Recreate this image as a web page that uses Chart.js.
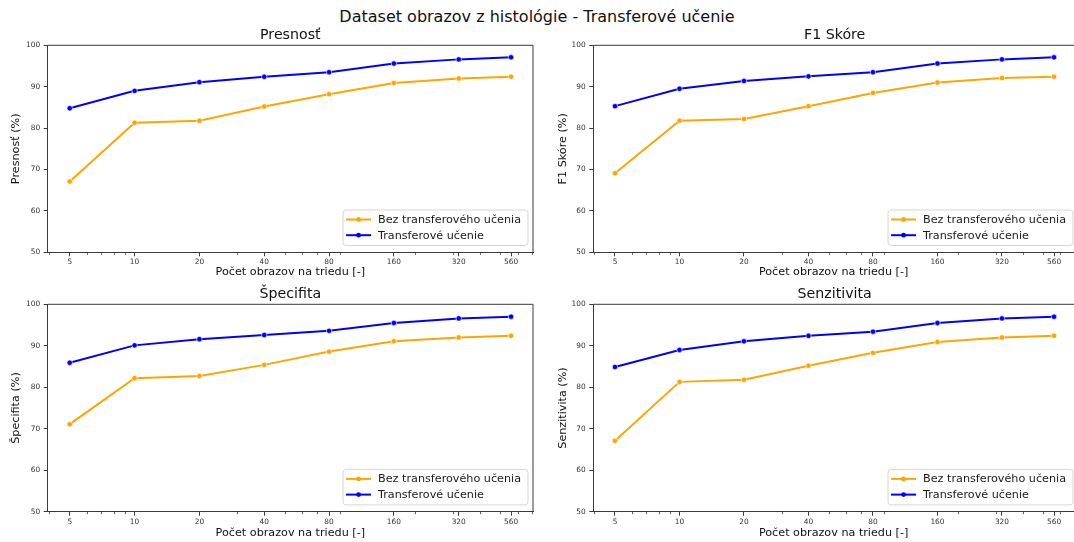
<!DOCTYPE html>
<html lang="sk">
<head>
<meta charset="utf-8">
<title>Dataset obrazov z histológie - Transferové učenie</title>
<script src="https://cdn.jsdelivr.net/npm/chart.js@4.4.1/dist/chart.umd.min.js"></script>
<style>
  html, body { margin: 0; padding: 0; background: #fff; overflow: hidden; }
  body { width: 1074px; height: 542px; position: relative; font-family: "DejaVu Sans", sans-serif; }
  #suptitle { position: absolute; left: 0; top: 7px; width: 1074px; text-align: center; font-size: 16px; line-height: 19px; color: #111; }
  .panel { position: absolute; }
</style>
</head>
<body>
<div id="suptitle">Dataset obrazov z histológie - Transferové učenie</div>
<div class="panel" style="left:0;top:22px;width:540px;height:260px"><canvas id="graf-presnost"></canvas></div>
<div class="panel" style="left:540px;top:22px;width:534px;height:260px"><canvas id="graf-f1"></canvas></div>
<div class="panel" style="left:0;top:282px;width:540px;height:260px"><canvas id="graf-specifita"></canvas></div>
<div class="panel" style="left:540px;top:282px;width:534px;height:260px"><canvas id="graf-senzitivita"></canvas></div>
<script>
// počet obrazov na triedu (os x, logaritmická)
const pocetObrazov = [5, 10, 20, 40, 80, 160, 320, 560];

const presnostBez = [67.1, 81.3, 81.8, 85.2, 88.2, 90.9, 92.0, 92.4];
const presnostTransfer = [84.8, 89.0, 91.1, 92.4, 93.5, 95.6, 96.6, 97.1];

const f1Bez = [69.1, 81.8, 82.2, 85.3, 88.5, 91.0, 92.1, 92.4];
const f1Transfer = [85.3, 89.5, 91.4, 92.5, 93.5, 95.6, 96.6, 97.1];

const specifitaBez = [71.1, 82.2, 82.7, 85.4, 88.6, 91.1, 92.0, 92.4];
const specifitaTransfer = [85.9, 90.1, 91.6, 92.6, 93.6, 95.5, 96.6, 97.0];

const senzitivitaBez = [67.1, 81.3, 81.8, 85.2, 88.3, 90.9, 92.0, 92.4];
const senzitivitaTransfer = [84.9, 89.0, 91.1, 92.4, 93.4, 95.5, 96.6, 97.0];

const xTicks = [5, 10, 20, 40, 80, 160, 320, 560];
const xMinorTicks = [4, 6, 7, 8, 9, 30, 50, 60, 70, 90, 200, 300, 400, 500, 600, 700];
const yTicks = [50, 60, 70, 80, 90, 100];

const legendLabels = ["Bez transferového učenia", "Transferové učenie"];
const FONT = '"DejaVu Sans", sans-serif';
const AXIS = "#3a3a3a";

// nadpis grafu, ramcek hore a vpravo (ako matplotlib)
const frame = {
  id: "frame",
  afterDraw(chart, args, opts) {
    const { ctx, chartArea: a } = chart;
    ctx.save();
    ctx.fillStyle = "#111";
    ctx.font = "14.2px " + FONT;
    ctx.textAlign = "center";
    ctx.textBaseline = "middle";
    ctx.fillText(opts.title, (a.left + opts.axisRight) / 2, a.top - opts.titleGap);

    ctx.strokeStyle = AXIS;
    ctx.lineWidth = 1;
    ctx.beginPath();
    ctx.moveTo(a.left, a.top);
    ctx.lineTo(a.right, a.top);
    if (opts.right) ctx.lineTo(a.right, a.bottom);
    ctx.stroke();
    // vedlajsie znacky na osi x
    const sx = chart.scales.x;
    ctx.lineWidth = 0.8;
    xMinorTicks.forEach(v => {
      if (v < sx.min || v > sx.max) return;
      const px = Math.round(sx.getPixelForValue(v)) + 0.5;
      ctx.beginPath();
      ctx.moveTo(px, a.bottom);
      ctx.lineTo(px, a.bottom + 2.5);
      ctx.stroke();
    });
    ctx.restore();
  }
};

// legenda vpravo dole v grafe
const legendBox = {
  id: "legendBox",
  afterDraw(chart, args, opts) {
    const { ctx, chartArea: a } = chart;
    ctx.save();
    ctx.font = "11.2px " + FONT;
    const tw = Math.max(...chart.data.datasets.map(d => ctx.measureText(d.label).width));
    const w = tw + 42, h = 35.5;
    const x = a.right - opts.rightInset - w;
    const y = a.bottom - 6.8 - h;
    ctx.fillStyle = "rgba(255,255,255,0.85)";
    ctx.strokeStyle = "#d6d6d6";
    ctx.lineWidth = 1;
    ctx.beginPath();
    ctx.roundRect(x, y, w, h, 3);
    ctx.fill();
    ctx.stroke();
    chart.data.datasets.forEach((ds, i) => {
      const cy = y + 9.5 + i * 15.7;
      ctx.strokeStyle = ds.borderColor;
      ctx.lineWidth = 2;
      ctx.beginPath();
      ctx.moveTo(x + 3, cy);
      ctx.lineTo(x + 28, cy);
      ctx.stroke();
      ctx.fillStyle = ds.borderColor;
      ctx.beginPath();
      ctx.arc(x + 15.5, cy, 2.4, 0, Math.PI * 2);
      ctx.fill();
      ctx.fillStyle = "#1a1a1a";
      ctx.textBaseline = "middle";
      ctx.fillText(ds.label, x + 35, cy + 0.5);
    });
    ctx.restore();
  }
};

function serie(label, values, color) {
  return {
    label,
    data: pocetObrazov.map((x, i) => ({ x, y: values[i] })),
    borderColor: color,
    backgroundColor: color,
    borderWidth: 2,
    tension: 0,
    pointRadius: 2.7,
    pointBackgroundColor: color,
    pointBorderColor: "#fff",
    pointBorderWidth: 0.6
  };
}

function makePanel(id, title, yLabel, bez, transfer, side, row) {
  const left = side === "left";
  const top = row === "top";
  new Chart(document.getElementById(id), {
    type: "line",
    data: {
      datasets: [
        serie(legendLabels[0], bez, "#ffa500"),
        serie(legendLabels[1], transfer, "#0000ff")
      ]
    },
    plugins: [frame, legendBox],
    options: {
      responsive: true,
      maintainAspectRatio: false,
      animation: false,
      layout: {
        autoPadding: false,
        padding: { left: 0, right: left ? 7 : 0, top: top ? 23.3 : 22.3, bottom: 0 }
      },
      plugins: {
        legend: { display: false },
        tooltip: { enabled: false },
        title: { display: false },
        // stred nadpisu podla skutocnej sirky osi (prava os vpravo je orezana)
        frame: { right: left, title, titleGap: top ? 10.3 : 10, axisRight: left ? 533 : 536 },
        legendBox: { rightInset: left ? 5 : 1 }
      },
      scales: {
        x: {
          type: "logarithmic",
          bounds: "data",
          min: left ? 3.95 : 3.96,
          max: left ? 708 : 694,
          afterBuildTicks: s => { s.ticks = xTicks.map(v => ({ value: v })); },
          afterFit: s => { s.height = top ? 29.7 : 30.3; },
          ticks: {
            autoSkip: false,
            maxRotation: 0,
            minRotation: 0,
            padding: 1.5,
            color: "#333",
            font: { family: FONT, size: 7.4 },
            callback: v => String(v)
          },
          grid: { drawOnChartArea: false, drawTicks: true, tickLength: 4, tickColor: AXIS },
          border: { color: AXIS, width: 1 },
          title: {
            display: true,
            text: "Počet obrazov na triedu [-]",
            color: "#111",
            font: { family: FONT, size: 11.2, lineHeight: 1.2 },
            padding: { top: 0, bottom: top ? 3.3 : 2.3 }
          }
        },
        y: {
          type: "linear",
          min: 50,
          max: 100,
          afterBuildTicks: s => { s.ticks = yTicks.map(v => ({ value: v })); },
          afterFit: s => { s.width = left ? 47.7 : 53.3; },
          ticks: {
            padding: 3.6,
            color: "#333",
            font: { family: FONT, size: 7.4 }
          },
          grid: { drawOnChartArea: false, drawTicks: true, tickLength: 4, tickColor: AXIS },
          border: { color: AXIS, width: 1 },
          title: {
            display: true,
            text: yLabel,
            color: "#111",
            font: { family: FONT, size: 11.2, lineHeight: 1.2 },
            padding: { top: left ? 9.3 : 16.3, bottom: 0 }
          }
        }
      }
    }
  });
}

makePanel("graf-presnost", "Presnosť", "Presnosť (%)", presnostBez, presnostTransfer, "left", "top");
makePanel("graf-f1", "F1 Skóre", "F1 Skóre (%)", f1Bez, f1Transfer, "right", "top");
makePanel("graf-specifita", "Špecifita", "Špecifita (%)", specifitaBez, specifitaTransfer, "left", "bottom");
makePanel("graf-senzitivita", "Senzitivita", "Senzitivita (%)", senzitivitaBez, senzitivitaTransfer, "right", "bottom");
</script>
</body>
</html>
